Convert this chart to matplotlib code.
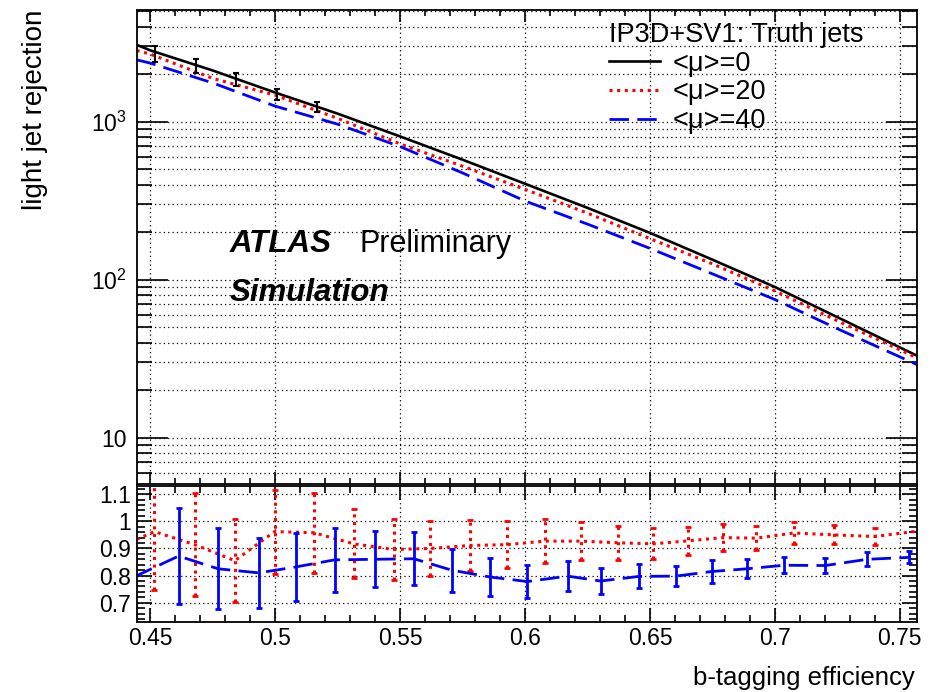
import matplotlib
matplotlib.use('Agg')
import matplotlib.pyplot as plt
from matplotlib.ticker import MultipleLocator, LogLocator, FixedLocator, FixedFormatter, NullFormatter, FormatStrFormatter

plt.rcParams['font.family'] = ['Liberation Sans', 'DejaVu Sans']
plt.rcParams['mathtext.fontset'] = 'custom'
plt.rcParams['mathtext.rm'] = 'Liberation Sans'
plt.rcParams['mathtext.it'] = 'Liberation Sans:italic'
plt.rcParams['mathtext.bf'] = 'Liberation Sans:bold'

# rejection curves (top panel)
eff = [0.4445, 0.45, 0.475, 0.50, 0.525, 0.55, 0.575, 0.60, 0.625, 0.65, 0.675, 0.70, 0.725, 0.757]
rej_mu0 = [3070, 2830, 2110, 1530, 1125, 807, 575, 405, 285, 198, 134, 90, 58, 33]
rej_mu20 = [2825, 2680, 1880, 1472, 1050, 724, 523, 373, 264, 182, 126, 85, 55, 32]
rej_mu40 = [2466, 2350, 1760, 1255, 965, 696, 474, 315, 225, 158, 109, 75, 49, 29]

# stat. error bars visible on the <mu>=0 curve at low efficiency
err_x_mu0 = [0.4519, 0.4681, 0.4844, 0.5006, 0.5168]
err_c_mu0 = [2760, 2280, 1860, 1510, 1240]
err_lo_mu0 = [2372, 2032, 1672, 1364, 1145]
err_hi_mu0 = [3027, 2495, 2032, 1617, 1325]

# ratio to <mu>=0 (bottom panel)
ratio_x_mu20 = [0.4360, 0.4516, 0.4678, 0.4838, 0.4997, 0.5154, 0.5314, 0.5475, 0.5620, 0.5780, 0.5927,
                0.6078, 0.6224, 0.6370, 0.6513, 0.6652, 0.6792, 0.6926, 0.7077, 0.7238, 0.7400, 0.7580]
ratio_mu20 = [0.900, 0.962, 0.914, 0.855, 0.962, 0.958, 0.917, 0.896, 0.900, 0.911, 0.914,
              0.927, 0.927, 0.921, 0.917, 0.928, 0.940, 0.938, 0.957, 0.950, 0.944, 0.965]
ratio_err_mu20 = [0.220, 0.214, 0.190, 0.153, 0.155, 0.147, 0.127, 0.112, 0.100, 0.094, 0.087,
                  0.080, 0.069, 0.063, 0.057, 0.052, 0.049, 0.043, 0.039, 0.035, 0.030, 0.028]

ratio_x_mu40 = [0.4435, 0.4613, 0.4771, 0.4934, 0.5083, 0.5238, 0.5398, 0.5555, 0.5706, 0.5858, 0.6009,
                0.6170, 0.6303, 0.6457, 0.6604, 0.6747, 0.6888, 0.7036, 0.7202, 0.7369, 0.7536]
ratio_mu40 = [0.795, 0.872, 0.825, 0.810, 0.832, 0.858, 0.860, 0.862, 0.820, 0.795, 0.778,
              0.798, 0.780, 0.797, 0.798, 0.815, 0.825, 0.838, 0.837, 0.860, 0.867]
ratio_err_mu40 = [0.200, 0.178, 0.149, 0.130, 0.125, 0.117, 0.103, 0.098, 0.079, 0.069, 0.060,
                  0.055, 0.048, 0.044, 0.038, 0.041, 0.035, 0.030, 0.027, 0.026, 0.022]

labels = ['<\u03bc>=0', '<\u03bc>=20', '<\u03bc>=40']

DOT = (0, (1, 1.5))
DASH = (0, (7, 3))
GRID = dict(color='black', linestyle=(0, (1, 2.5)), linewidth=0.9)

fig = plt.figure(figsize=(9.36, 6.92), dpi=100)
ax1 = fig.add_axes([0.146, 0.3006, 0.834, 0.685])
ax2 = fig.add_axes([0.146, 0.1016, 0.834, 0.196])

# top panel
ax1.plot(eff, rej_mu0, color='black', lw=1.9, label=labels[0])
ax1.plot(eff, rej_mu20, color='red', lw=2.2, linestyle=DOT, label=labels[1])
ax1.plot(eff, rej_mu40, color='blue', lw=2.0, linestyle=DASH, label=labels[2])
yerr0 = [[c - lo for c, lo in zip(err_c_mu0, err_lo_mu0)],
         [hi - c for c, hi in zip(err_c_mu0, err_hi_mu0)]]
ax1.errorbar(err_x_mu0, err_c_mu0, yerr=yerr0, fmt='none', ecolor='black',
             elinewidth=1.5, capsize=2, capthick=1.5)

ax1.set_yscale('log')
ax1.set_xlim(0.4445, 0.757)
ax1.set_ylim(5.1, 5100)
ax1.yaxis.set_major_locator(FixedLocator([10, 100, 1000]))
ax1.yaxis.set_major_formatter(FixedFormatter(['10', '$10^{2}$', '$10^{3}$']))
ax1.yaxis.set_minor_locator(LogLocator(base=10, subs=range(2, 10), numticks=20))
ax1.yaxis.set_minor_formatter(NullFormatter())
ax1.xaxis.set_major_locator(MultipleLocator(0.05))
ax1.xaxis.set_minor_locator(MultipleLocator(0.01))
ax1.tick_params(labelbottom=False)
ax1.grid(True, which='both', axis='y', **GRID)
ax1.grid(True, which='major', axis='x', **GRID)
ax1.set_axisbelow(True)
ax1.tick_params(axis='both', which='both', direction='in', top=True, right=True, width=1.2,
                labelsize=16.5)
ax1.tick_params(axis='x', which='major', length=8.6)
ax1.tick_params(axis='x', which='minor', length=4.3)
ax1.tick_params(axis='y', which='major', length=22, pad=7)
ax1.tick_params(axis='y', which='minor', length=11)

leg = ax1.legend(title='IP3D+SV1: Truth jets', loc='upper left',
                 bbox_to_anchor=(609 / 936, 1 - 22 / 692), bbox_transform=fig.transFigure,
                 frameon=False, fontsize=19.5, title_fontsize=19.5, handlelength=1.9,
                 handletextpad=0.45, labelspacing=0.1, borderpad=0, borderaxespad=0,
                 alignment='left')

# bottom panel: ratio
ax2.plot(ratio_x_mu20, ratio_mu20, color='red', lw=2.2, linestyle=DOT)
eb = ax2.errorbar(ratio_x_mu20, ratio_mu20, yerr=ratio_err_mu20, fmt='none', ecolor='red',
                  elinewidth=2.2, capsize=2, capthick=2)
eb[2][0].set_linestyle(DOT)
ax2.plot(ratio_x_mu40, ratio_mu40, color='blue', lw=2.0, linestyle=DASH)
ax2.errorbar(ratio_x_mu40, ratio_mu40, yerr=ratio_err_mu40, fmt='none', ecolor='blue',
             elinewidth=2.0, capsize=2, capthick=2)

ax2.set_xlim(0.4445, 0.757)
ax2.set_ylim(0.63, 1.13)
ax2.xaxis.set_major_locator(MultipleLocator(0.05))
ax2.xaxis.set_minor_locator(MultipleLocator(0.01))
ax2.xaxis.set_major_formatter(FormatStrFormatter('%g'))
ax2.yaxis.set_major_locator(FixedLocator([0.7, 0.8, 0.9, 1.0, 1.1]))
ax2.yaxis.set_major_formatter(FormatStrFormatter('%g'))
ax2.yaxis.set_minor_locator(MultipleLocator(0.02))
ax2.grid(True, which='major', **GRID)
ax2.set_axisbelow(True)
ax2.tick_params(axis='both', which='both', direction='in', top=True, right=True, width=1.2,
                labelsize=16.5)
ax2.tick_params(axis='x', which='major', length=10, pad=4)
ax2.tick_params(axis='x', which='minor', length=5)
ax2.tick_params(axis='y', which='major', length=11, pad=4)
ax2.tick_params(axis='y', which='minor', length=5.5)

for ax in (ax1, ax2):
    for sp in ax.spines.values():
        sp.set_linewidth(1.3)

# texts
fig.text(0.037, 1 - 10 / 692, 'light jet rejection', rotation=90, ha='center', va='top', fontsize=20)
fig.text(915 / 936, 1 - 678 / 692, 'b-tagging efficiency', ha='right', va='center', fontsize=18.5)
fig.text(230 / 936, 1 - 244 / 692, 'ATLAS', fontsize=22.5, fontweight='bold', style='italic', va='center')
fig.text(360 / 936, 1 - 244 / 692, 'Preliminary', fontsize=22, va='center')
fig.text(230 / 936, 1 - 293 / 692, 'Simulation', fontsize=22.5, fontweight='bold', style='italic', va='center')

fig.savefig('out.png', dpi=100)
